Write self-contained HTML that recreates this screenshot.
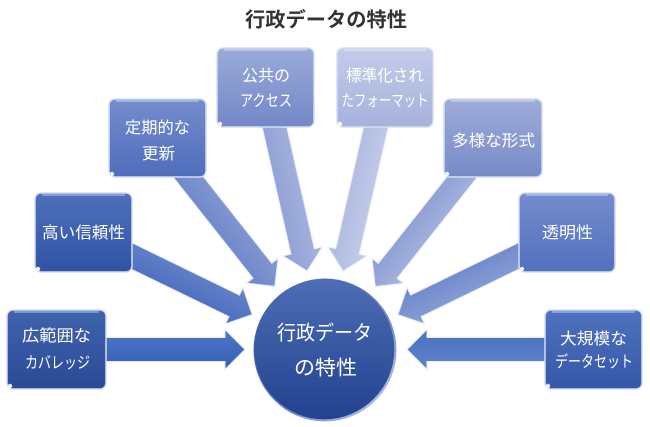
<!DOCTYPE html>
<html><head><meta charset="utf-8">
<style>
html,body{margin:0;padding:0;background:#fff;}
svg{display:block;}
text{font-family:"Liberation Sans","Noto Sans CJK JP",sans-serif;}
</style></head>
<body>
<svg width="650" height="427" viewBox="0 0 650 427" xmlns="http://www.w3.org/2000/svg">
<defs>
  <linearGradient id="b1" x1="0" y1="0" x2="0" y2="1"><stop offset="0" stop-color="#4163ae"/><stop offset="1" stop-color="#2a4a96"/></linearGradient>
  <linearGradient id="b2" x1="0" y1="0" x2="0" y2="1"><stop offset="0" stop-color="#4e70bb"/><stop offset="1" stop-color="#3153a4"/></linearGradient>
  <linearGradient id="b3" x1="0" y1="0" x2="0" y2="1"><stop offset="0" stop-color="#758dcd"/><stop offset="1" stop-color="#4f6dbb"/></linearGradient>
  <linearGradient id="b4" x1="0" y1="0" x2="0" y2="1"><stop offset="0" stop-color="#9aaad9"/><stop offset="1" stop-color="#7487c7"/></linearGradient>
  <linearGradient id="b5" x1="0" y1="0" x2="0" y2="1"><stop offset="0" stop-color="#c3cce9"/><stop offset="1" stop-color="#a6b2db"/></linearGradient>
  <linearGradient id="b6" x1="0" y1="0" x2="0" y2="1"><stop offset="0" stop-color="#9dacd9"/><stop offset="1" stop-color="#788bc7"/></linearGradient>
  <linearGradient id="b7" x1="0" y1="0" x2="0" y2="1"><stop offset="0" stop-color="#748ccd"/><stop offset="1" stop-color="#5270bc"/></linearGradient>
  <linearGradient id="b8" x1="0" y1="0" x2="0" y2="1"><stop offset="0" stop-color="#4f72bf"/><stop offset="1" stop-color="#3457a9"/></linearGradient>
  <linearGradient id="a1" x1="0" y1="0" x2="0" y2="1"><stop offset="0" stop-color="#4c74c6"/><stop offset="1" stop-color="#3860b6"/></linearGradient>
  <linearGradient id="a2" x1="0" y1="0" x2="0" y2="1"><stop offset="0" stop-color="#6584c9"/><stop offset="1" stop-color="#4a6dbe"/></linearGradient>
  <linearGradient id="a3" x1="0" y1="0" x2="0" y2="1"><stop offset="0" stop-color="#8499d2"/><stop offset="1" stop-color="#6c86c8"/></linearGradient>
  <linearGradient id="a4" x1="0" y1="0" x2="0" y2="1"><stop offset="0" stop-color="#a6b3de"/><stop offset="1" stop-color="#8e9fd4"/></linearGradient>
  <linearGradient id="a5" x1="0" y1="0" x2="0" y2="1"><stop offset="0" stop-color="#c4cce9"/><stop offset="1" stop-color="#aeb9e0"/></linearGradient>
  <linearGradient id="a6" x1="0" y1="0" x2="0" y2="1"><stop offset="0" stop-color="#a7b4de"/><stop offset="1" stop-color="#8a9cd3"/></linearGradient>
  <linearGradient id="a7" x1="0" y1="0" x2="0" y2="1"><stop offset="0" stop-color="#8a9fd5"/><stop offset="1" stop-color="#6b86cb"/></linearGradient>
  <linearGradient id="a8" x1="0" y1="0" x2="0" y2="1"><stop offset="0" stop-color="#6283cb"/><stop offset="1" stop-color="#4a6fc0"/></linearGradient>
  <linearGradient id="cg" x1="0" y1="0" x2="0" y2="1"><stop offset="0" stop-color="#4d6db5"/><stop offset="1" stop-color="#22428f"/></linearGradient>
  <linearGradient id="rim" x1="0" y1="0" x2="1" y2="1"><stop offset="0" stop-color="#3a5aa4"/><stop offset="0.6" stop-color="#6d88c8"/><stop offset="1" stop-color="#c9d6f2"/></linearGradient>
</defs>

<!-- Title -->
<text x="326" y="26.5" font-size="20" font-weight="bold" fill="#333" text-anchor="middle" textLength="162" lengthAdjust="spacingAndGlyphs">行政データの特性</text>

<!-- Arrows -->
<g stroke="#e6ecf8" stroke-width="1" stroke-linejoin="miter">
  <g transform="translate(245,349.5) rotate(0)"><polygon fill="url(#a1)" points="-188,-12 -20,-12 -20,-20 0,0 -20,20 -20,12 -188,12"/></g>
  <g transform="translate(252.2,314.6) rotate(25.94)"><polygon fill="url(#a2)" points="-188,-12 -20,-12 -20,-20 0,0 -20,20 -20,12 -188,12"/></g>
  <g transform="translate(274.8,286.4) rotate(51.69)"><polygon fill="url(#a3)" points="-189,-12 -20,-12 -20,-20 0,0 -20,20 -20,12 -189,12"/></g>
  <g transform="translate(307.1,271) rotate(77.23)"><polygon fill="url(#a4)" points="-188,-12 -20,-12 -20,-20 0,0 -20,20 -20,12 -188,12"/></g>
  <g transform="translate(343,271) rotate(102.87)"><polygon fill="url(#a5)" points="-188,-12 -20,-12 -20,-20 0,0 -20,20 -20,12 -188,12"/></g>
  <g transform="translate(375.3,286.5) rotate(128.39)"><polygon fill="url(#a6)" points="-189,-12 -20,-12 -20,-20 0,0 -20,20 -20,12 -189,12"/></g>
  <g transform="translate(397.9,314.6) rotate(154.1)"><polygon fill="url(#a7)" points="-188,-12 -20,-12 -20,-20 0,0 -20,20 -20,12 -188,12"/></g>
  <g transform="translate(407,349.5) rotate(180)"><polygon fill="url(#a8)" points="-187,-12 -20,-12 -20,-20 0,0 -20,20 -20,12 -187,12"/></g>
</g>

<!-- Boxes -->
<g stroke="#d3ddf3" stroke-width="1.5">
  <rect x="7" y="310" width="99" height="79" rx="6" fill="url(#b1)"/>
  <rect x="35" y="193" width="97" height="79" rx="6" fill="url(#b2)"/>
  <rect x="109" y="99" width="97" height="78" rx="6" fill="url(#b3)"/>
  <rect x="217" y="48" width="97" height="79" rx="6" fill="url(#b4)"/>
  <rect x="337" y="48" width="96" height="79" rx="6" fill="url(#b5)"/>
  <rect x="444" y="99" width="98" height="78" rx="6" fill="url(#b6)"/>
  <rect x="519" y="193" width="96" height="79" rx="6" fill="url(#b7)"/>
  <rect x="545" y="310" width="97" height="79" rx="6" fill="url(#b8)"/>
</g>
<!-- top gloss lines -->
<g stroke="#ffffff" stroke-opacity="0.45" stroke-width="1.5">
  <line x1="14" y1="312" x2="99" y2="312"/>
  <line x1="42" y1="195" x2="125" y2="195"/>
  <line x1="116" y1="101" x2="199" y2="101"/>
  <line x1="224" y1="50" x2="307" y2="50"/>
  <line x1="344" y1="50" x2="426" y2="50"/>
  <line x1="451" y1="101" x2="535" y2="101"/>
  <line x1="526" y1="195" x2="608" y2="195"/>
  <line x1="552" y1="312" x2="635" y2="312"/>
</g>
<!-- corner dots -->
<g fill="#ffffff" fill-opacity="0.9">
  <circle cx="10" cy="386" r="2.2"/>
  <circle cx="38" cy="269" r="2.2"/>
  <circle cx="112" cy="174" r="2.2"/>
  <circle cx="220" cy="124" r="2.2"/>
  <circle cx="340" cy="124" r="2.2"/>
  <circle cx="447" cy="174" r="2.2"/>
  <circle cx="522" cy="269" r="2.2"/>
  <circle cx="548" cy="386" r="2.2"/>
</g>

<!-- Box texts -->
<g fill="#ffffff" font-size="16" text-anchor="middle">
  <text x="56.5" y="341" textLength="69" lengthAdjust="spacingAndGlyphs">広範囲な</text>
  <text x="57.5" y="368" textLength="65" lengthAdjust="spacingAndGlyphs">カバレッジ</text>
  <text x="83.5" y="238" textLength="83" lengthAdjust="spacingAndGlyphs">高い信頼性</text>
  <text x="157.5" y="133" textLength="65" lengthAdjust="spacingAndGlyphs">定期的な</text>
  <text x="158.5" y="159" textLength="33" lengthAdjust="spacingAndGlyphs">更新</text>
  <text x="266" y="81" textLength="48" lengthAdjust="spacingAndGlyphs">公共の</text>
  <text x="266" y="106" textLength="52" lengthAdjust="spacingAndGlyphs">アクセス</text>
  <text x="385" y="81" textLength="78" lengthAdjust="spacingAndGlyphs">標準化され</text>
  <text x="385" y="106" textLength="87" lengthAdjust="spacingAndGlyphs">たフォーマット</text>
  <text x="493.5" y="146" textLength="83" lengthAdjust="spacingAndGlyphs">多様な形式</text>
  <text x="567.5" y="238" textLength="51" lengthAdjust="spacingAndGlyphs">透明性</text>
  <text x="593.5" y="344" textLength="67" lengthAdjust="spacingAndGlyphs">大規模な</text>
  <text x="594" y="367" textLength="78" lengthAdjust="spacingAndGlyphs">データセット</text>
</g>

<!-- Center circle -->
<circle cx="325" cy="350" r="71.5" fill="url(#rim)"/>
<circle cx="324.3" cy="349.3" r="70" fill="url(#cg)"/>
<g fill="#ffffff" font-size="20" text-anchor="middle">
  <text x="324.5" y="339.5" textLength="95" lengthAdjust="spacingAndGlyphs">行政データ</text>
  <text x="325.5" y="374.5" textLength="63" lengthAdjust="spacingAndGlyphs">の特性</text>
</g>
</svg>
</body></html>
